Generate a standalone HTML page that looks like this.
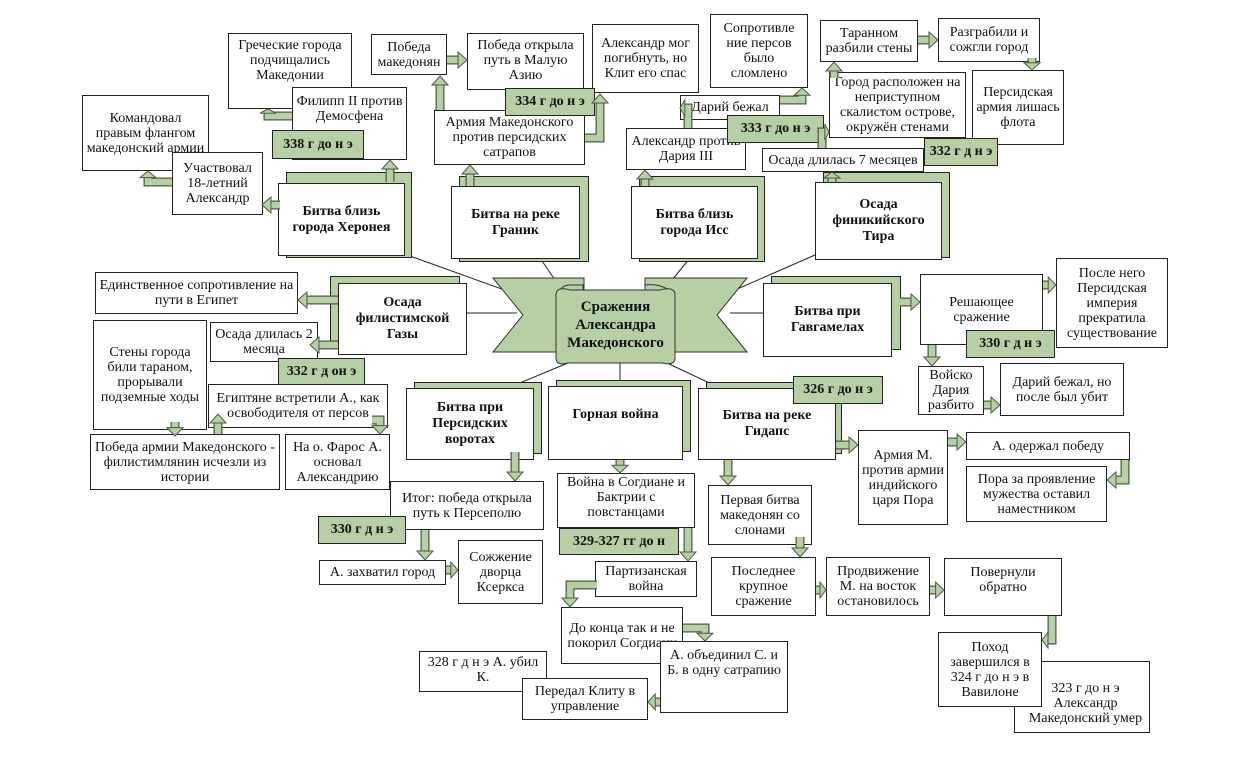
<!DOCTYPE html>
<html><head><meta charset="utf-8">
<style>
html,body{margin:0;padding:0;background:#fff;}
#c{position:relative;width:1238px;height:764px;overflow:hidden;font-family:"Liberation Serif","Noto Serif CJK SC",serif;font-size:14px;color:#111;}
.b{position:absolute;box-sizing:border-box;border:1px solid #222;background:#fff;display:flex;align-items:center;justify-content:center;text-align:center;line-height:15px;padding:1px 3px;}
.g{position:absolute;box-sizing:border-box;border:1px solid #222;background:#b7cfa4;display:flex;align-items:center;justify-content:center;font-weight:bold;font-size:14px;}
.bk{position:absolute;box-sizing:border-box;border:1px solid #222;background:#b7cfa4;}
.bt{font-weight:bold;font-size:14px;line-height:16px;}
svg{position:absolute;left:0;top:0;}
</style></head><body><div id="c">
<svg width="1238" height="764" id="lines">
<g stroke="#222" stroke-width="1" fill="none">
<line x1="410" y1="256" x2="510" y2="292"/>
<line x1="540" y1="258" x2="555" y2="280"/>
<line x1="690" y1="258" x2="672" y2="280"/>
<line x1="815" y1="255" x2="735" y2="290"/>
<line x1="467" y1="313" x2="517" y2="313"/>
<line x1="730" y1="313" x2="763" y2="313"/>
<line x1="515" y1="385" x2="575" y2="360"/>
<line x1="620" y1="362" x2="620" y2="385"/>
<line x1="665" y1="362" x2="720" y2="388"/>
</g>
</svg>

<div class="bk" style="left:286px;top:172px;width:126px;height:86px;"></div>
<div class="bk" style="left:459px;top:176px;width:130px;height:86px;"></div>
<div class="bk" style="left:639px;top:176px;width:126px;height:86px;"></div>
<div class="bk" style="left:823px;top:172px;width:127px;height:86px;"></div>
<div class="bk" style="left:330px;top:276px;width:130px;height:72px;"></div>
<div class="bk" style="left:771px;top:276px;width:130px;height:74px;"></div>
<div class="bk" style="left:414px;top:382px;width:128px;height:72px;"></div>
<div class="bk" style="left:556px;top:380px;width:135px;height:72px;"></div>
<div class="bk" style="left:706px;top:382px;width:136px;height:72px;"></div>

<div class="b bt" style="left:278px;top:183px;width:127px;height:73px;">Битва близь<br>города Херонея</div>
<div class="b bt" style="left:451px;top:186px;width:129px;height:73px;">Битва на реке<br>Граник</div>
<div class="b bt" style="left:631px;top:186px;width:127px;height:73px;">Битва близь<br>города Исс</div>
<div class="b bt" style="left:815px;top:182px;width:127px;height:78px;">Осада<br>финикийского<br>Тира</div>
<div class="b bt" style="left:338px;top:283px;width:129px;height:72px;">Осада<br>филистимской<br>Газы</div>
<div class="b bt" style="left:763px;top:283px;width:129px;height:74px;">Битва при<br>Гавгамелах</div>
<div class="b bt" style="left:406px;top:388px;width:128px;height:72px;">Битва при<br>Персидских<br>воротах</div>
<div class="b bt" style="left:548px;top:386px;width:135px;height:74px;align-items:flex-start;padding-top:20px;">Горная война</div>
<div class="b bt" style="left:698px;top:388px;width:138px;height:72px;">Битва на реке<br>Гидапс</div>

<div class="b" style="left:82px;top:95px;width:127px;height:76px;">Командовал правым флангом македонский армии</div>
<div class="b" style="left:172px;top:152px;width:91px;height:63px;">Участвовал 18-летний Александр</div>
<div class="b" style="left:228px;top:33px;width:124px;height:76px;align-items:flex-start;padding-top:4px;">Греческие города подчищались Македонии</div>
<div class="b" style="left:292px;top:87px;width:115px;height:73px;align-items:flex-start;padding-top:6px;">Филипп II против Демосфена</div>
<div class="g" style="left:272px;top:130px;width:92px;height:29px;">338 г до н э</div>
<div class="b" style="left:371px;top:34px;width:76px;height:41px;">Победа македонян</div>
<div class="b" style="left:467px;top:33px;width:117px;height:57px;align-items:flex-start;padding-top:4px;">Победа открыла путь в Малую Азию</div>
<div class="b" style="left:592px;top:24px;width:107px;height:69px;">Александр мог погибнуть, но Клит его спас</div>
<div class="b" style="left:434px;top:110px;width:151px;height:55px;">Армия Македонского против персидских сатрапов</div>
<div class="g" style="left:505px;top:88px;width:90px;height:28px;">334 г до н э</div>
<div class="b" style="left:710px;top:14px;width:98px;height:74px;">Сопротивле ние персов было сломлено</div>
<div class="b" style="left:626px;top:128px;width:120px;height:42px;">Александр против Дария III</div>
<div class="b" style="left:680px;top:95px;width:100px;height:25px;">Дарий бежал</div>
<div class="g" style="left:727px;top:115px;width:97px;height:28px;">333 г до н э</div>
<div class="b" style="left:820px;top:20px;width:98px;height:42px;">Таранном разбили стены</div>
<div class="b" style="left:938px;top:18px;width:102px;height:44px;">Разграбили и сожгли город</div>
<div class="b" style="left:829px;top:72px;width:137px;height:66px;">Город расположен на неприступном скалистом острове, окружён стенами</div>
<div class="b" style="left:972px;top:70px;width:92px;height:75px;">Персидская армия лишась флота</div>
<div class="b" style="left:762px;top:148px;width:162px;height:24px;">Осада длилась 7 месяцев</div>
<div class="g" style="left:924px;top:138px;width:74px;height:28px;">332 г д н э</div>
<div class="b" style="left:95px;top:272px;width:203px;height:42px;">Единственное сопротивление на пути в Египет</div>
<div class="b" style="left:93px;top:320px;width:114px;height:110px;">Стены города били тараном, прорывали подземные ходы</div>
<div class="b" style="left:210px;top:322px;width:108px;height:40px;">Осада длилась 2 месяца</div>
<div class="g" style="left:278px;top:358px;width:87px;height:28px;">332 г д он э</div>
<div class="b" style="left:208px;top:384px;width:180px;height:44px;">Египтяне встретили А., как освободителя от персов</div>
<div class="b" style="left:90px;top:434px;width:190px;height:56px;">Победа армии Македонского - филистимлянин исчезли из истории</div>
<div class="b" style="left:285px;top:434px;width:105px;height:56px;">На о. Фарос А. основал Александрию</div>
<div class="b" style="left:920px;top:274px;width:123px;height:71px;align-items:flex-start;padding-top:20px;">Решающее сражение</div>
<div class="b" style="left:1056px;top:258px;width:112px;height:90px;">После него Персидская империя прекратила существование</div>
<div class="g" style="left:966px;top:330px;width:89px;height:28px;">330 г д н э</div>
<div class="b" style="left:918px;top:366px;width:66px;height:49px;">Войско Дария разбито</div>
<div class="b" style="left:1000px;top:363px;width:124px;height:53px;">Дарий бежал, но после был убит</div>
<div class="g" style="left:793px;top:376px;width:90px;height:28px;">326 г до н э</div>
<div class="b" style="left:858px;top:430px;width:90px;height:95px;">Армия М. против армии индийского царя Пора</div>
<div class="b" style="left:966px;top:432px;width:164px;height:28px;">А. одержал победу</div>
<div class="b" style="left:966px;top:466px;width:141px;height:56px;">Пора за проявление мужества оставил наместником</div>
<div class="b" style="left:390px;top:481px;width:154px;height:49px;">Итог: победа открыла путь к Персеполю</div>
<div class="g" style="left:318px;top:516px;width:88px;height:28px;">330 г д н э</div>
<div class="b" style="left:557px;top:473px;width:138px;height:55px;align-items:flex-start;">Война в Согдиане и Бактрии с повстанцами</div>
<div class="g" style="left:559px;top:528px;width:120px;height:27px;">329-327 гг до н</div>
<div class="b" style="left:708px;top:485px;width:104px;height:60px;">Первая битва македонян со слонами</div>
<div class="b" style="left:319px;top:560px;width:127px;height:25px;">А. захватил город</div>
<div class="b" style="left:458px;top:540px;width:85px;height:64px;">Сожжение дворца Ксеркса</div>
<div class="b" style="left:595px;top:561px;width:102px;height:36px;">Партизанская война</div>
<div class="b" style="left:711px;top:557px;width:105px;height:59px;">Последнее крупное сражение</div>
<div class="b" style="left:826px;top:557px;width:104px;height:59px;">Продвижение М. на восток остановилось</div>
<div class="b" style="left:944px;top:558px;width:118px;height:58px;align-items:flex-start;padding-top:6px;">Повернули обратно</div>
<div class="b" style="left:561px;top:607px;width:122px;height:57px;">До конца так и не покорил Согдиану</div>
<div class="b" style="left:660px;top:641px;width:128px;height:72px;align-items:flex-start;padding-top:6px;">А. объединил С. и Б. в одну сатрапию</div>
<div class="b" style="left:419px;top:651px;width:128px;height:41px;align-items:flex-start;padding-top:3px;">328 г д н э А. убил К.</div>
<div class="b" style="left:522px;top:678px;width:126px;height:42px;">Передал Клиту в управление</div>
<div class="b" style="left:1014px;top:661px;width:136px;height:72px;padding-left:10px;padding-top:14px;">323 г до н э Александр Македонский умер</div>
<div class="b" style="left:938px;top:632px;width:104px;height:75px;">Поход завершился в 324 г до н э в Вавилоне</div>

<svg width="1238" height="764">
<g stroke="#333" stroke-width="1" fill="#b7cfa4">
<polygon points="493,278 584,278 584,352 493,352 523,315"/>
<polygon points="747,278 645,278 645,352 747,352 717,315"/>
<path d="M558,300 Q558,285 570,285 L583,285 L583,300 Z"/>
<path d="M645,300 L645,285 Q660,283 672,292 L672,300 Z"/>
<path d="M556,295 Q556,286 570,290 L660,290 Q675,286 675,295 L675,358 Q675,366 662,363 L568,363 Q556,366 556,358 Z"/>
</g>
</svg>
<div style="position:absolute;left:553px;top:298px;width:125px;text-align:center;font-weight:bold;font-size:15px;line-height:18px;">Сражения Александра Македонского</div>

<svg width="1238" height="764" id="arr"></svg>
</div>
<script>
var A=[
[[280,205],[262,205]],
[[172,182],[148,182],[148,171]],
[[390,182],[390,160]],
[[292,116],[268,116],[268,109]],
[[470,186],[470,165]],
[[440,110],[440,76]],
[[447,60],[467,60]],
[[585,138],[600,138],[600,94]],
[[645,186],[645,170]],
[[688,128],[688,108],[680,108]],
[[780,100],[802,100],[802,88]],
[[832,182],[832,172]],
[[822,148],[822,132],[829,132]],
[[834,78],[834,62]],
[[918,40],[938,40]],
[[1032,58],[1032,70]],
[[338,300],[298,300]],
[[338,345],[310,345]],
[[175,422],[175,436]],
[[218,434],[218,414]],
[[372,420],[380,420],[380,434]],
[[900,302],[920,302]],
[[1043,285],[1056,285]],
[[932,345],[932,366]],
[[984,405],[1000,405]],
[[515,452],[515,481]],
[[425,530],[425,560]],
[[446,570],[458,570]],
[[620,460],[620,473]],
[[688,528],[688,561]],
[[597,585],[570,585],[570,607]],
[[683,628],[705,628],[705,641]],
[[660,702],[648,702]],
[[836,445],[858,445]],
[[728,460],[728,485]],
[[948,442],[966,442]],
[[1125,460],[1125,480],[1107,480]],
[[800,537],[800,557]],
[[816,590],[826,590]],
[[930,590],[944,590]],
[[1052,616],[1052,640],[1042,640]]
];
var s='';
A.forEach(function(p){
 var n=p.length,e=p[n-1],q=p[n-2],dx=e[0]-q[0],dy=e[1]-q[1],L=Math.hypot(dx,dy)||1,ux=dx/L,uy=dy/L,h=Math.min(9,L*0.6);
 var bx=e[0]-ux*h,by=e[1]-uy*h,px=-uy,py=ux;
 var pts=p.slice(0,n-1).map(function(a){return a.join(',')}).join(' ')+' '+bx+','+by;
 s+='<polyline points="'+pts+'" fill="none" stroke="#4d5a45" stroke-width="9" stroke-linejoin="miter"/>';
 s+='<polyline points="'+pts+'" fill="none" stroke="#b7cfa4" stroke-width="6.5" stroke-linejoin="miter"/>';
 s+='<polygon points="'+e[0]+','+e[1]+' '+(bx+px*8)+','+(by+py*8)+' '+(bx-px*8)+','+(by-py*8)+'" fill="#b7cfa4" stroke="#4d5a45" stroke-width="1"/>';
});
document.getElementById('arr').innerHTML=s;
</script>
</body></html>
